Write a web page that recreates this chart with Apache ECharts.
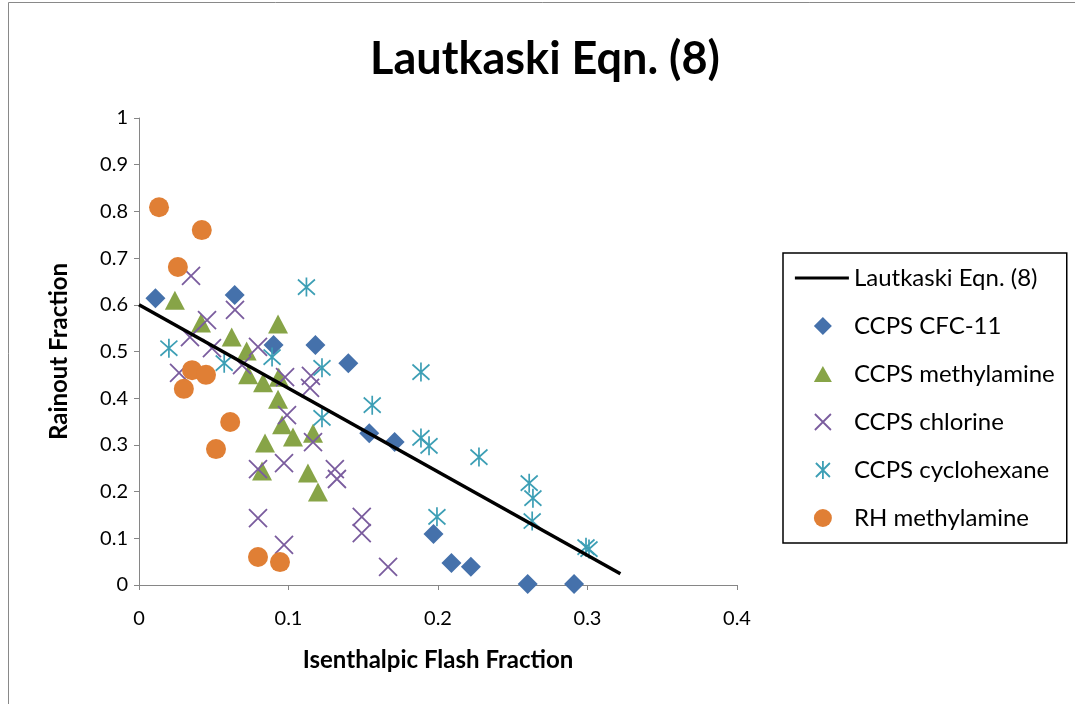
<!DOCTYPE html>
<html><head><meta charset="utf-8">
<script src="https://cdn.jsdelivr.net/npm/echarts@6/dist/echarts.min.js"></script>
<style>html,body{margin:0;padding:0;background:#fff}#c{width:1075px;height:704px}</style>
</head><body><div id="c"></div>
<script>
const xTickLabels = ['0', '0.1', '0.2', '0.3', '0.4'];
const yTickLabels = ['0', '0.1', '0.2', '0.3', '0.4', '0.5', '0.6', '0.7', '0.8', '0.9', '1'];

const lautkaskiX = [0, 0.322];
const lautkaskiY = [0.6, 0.024];

const cfc11X = [0.011, 0.064, 0.090, 0.118, 0.140, 0.154, 0.171, 0.197, 0.209, 0.222, 0.260, 0.291];
const cfc11Y = [0.614, 0.621, 0.514, 0.514, 0.475, 0.325, 0.306, 0.109, 0.047, 0.039, 0.002, 0.002];

const methylX = [0.024, 0.0415, 0.062, 0.072, 0.093, 0.073, 0.083, 0.0935, 0.093, 0.0957, 0.103, 0.1164, 0.0843, 0.0823, 0.113, 0.1197];
const methylY = [0.610, 0.561, 0.531, 0.501, 0.559, 0.450, 0.433, 0.445, 0.398, 0.343, 0.317, 0.325, 0.304, 0.244, 0.240, 0.199];

const chlorineX = [0.0348, 0.0642, 0.0455, 0.0341, 0.0488, 0.0796, 0.0689, 0.0268, 0.0977, 0.115, 0.1144, 0.099, 0.1164, 0.0796, 0.097, 0.131, 0.1324, 0.0796, 0.097, 0.149, 0.149, 0.1666];
const chlorineY = [0.662, 0.589, 0.567, 0.531, 0.507, 0.510, 0.471, 0.454, 0.445, 0.448, 0.422, 0.364, 0.306, 0.248, 0.261, 0.248, 0.227, 0.143, 0.086, 0.146, 0.111, 0.039];

const cycloX = [0.020, 0.057, 0.089, 0.112, 0.1224, 0.1224, 0.156, 0.1886, 0.1886, 0.194, 0.2274, 0.261, 0.2635, 0.263, 0.1993, 0.299, 0.301];
const cycloY = [0.507, 0.475, 0.488, 0.638, 0.465, 0.358, 0.385, 0.456, 0.315, 0.298, 0.274, 0.218, 0.186, 0.137, 0.146, 0.081, 0.077];

const rhX = [0.0134, 0.042, 0.026, 0.0355, 0.0448, 0.030, 0.061, 0.0515, 0.0796, 0.0943];
const rhY = [0.809, 0.760, 0.681, 0.460, 0.450, 0.420, 0.349, 0.291, 0.060, 0.049];

const zip = (xs, ys) => xs.map((x, i) => [x, ys[i]]);
const FONT = 'Lato, "Liberation Sans", sans-serif';
const AXIS = '#868686';
const PAD = 'M0,0M54,18';

const chart = echarts.init(document.getElementById('c'), null, {renderer: 'canvas'});
chart.setOption({
  animation: false,
  backgroundColor: '#fff',
  textStyle: {fontFamily: FONT},
  graphic: [{
    type: 'rect', silent: true, z: -10,
    shape: {x: 8.5, y: 2.5, width: 1200, height: 800},
    style: {fill: 'none', stroke: '#898989', lineWidth: 1}
  }],
  title: {
    text: 'Lautkaski Eqn. (8)',
    left: 540, top: 32, textAlign: 'center',
    textStyle: {fontFamily: FONT, fontSize: 45, fontWeight: 'bold', color: '#000'}
  },
  grid: {left: 139, top: 118, width: 598, height: 467, containLabel: false},
  xAxis: {
    type: 'value', min: 0, max: 0.4, interval: 0.1,
    name: 'Isenthalpic Flash Fraction', nameLocation: 'middle', nameGap: 63,
    nameTextStyle: {fontFamily: FONT, fontSize: 24, fontWeight: 'bold', color: '#000'},
    axisLine: {show: true, lineStyle: {color: AXIS, width: 1}},
    axisTick: {show: true, inside: false, length: 5, lineStyle: {color: AXIS}},
    splitLine: {show: false},
    axisLabel: {fontFamily: FONT, fontSize: 20, color: '#000', margin: 24,
      formatter: v => xTickLabels[Math.round(v * 10)]}
  },
  yAxis: {
    type: 'value', min: 0, max: 1, interval: 0.1,
    name: 'Rainout Fraction', nameLocation: 'middle', nameGap: 68,
    nameTextStyle: {fontFamily: FONT, fontSize: 24, fontWeight: 'bold', color: '#000'},
    axisLine: {show: true, lineStyle: {color: AXIS, width: 1}},
    axisTick: {show: true, inside: false, length: 5, lineStyle: {color: AXIS}},
    splitLine: {show: false},
    axisLabel: {fontFamily: FONT, fontSize: 20, color: '#000', margin: 11,
      formatter: v => yTickLabels[Math.round(v * 10)]}
  },
  legend: {
    orient: 'vertical', left: 783, top: 253,
    padding: [13, 12, 13, 11], itemGap: 24, itemWidth: 54, itemHeight: 18,
    borderColor: '#000', borderWidth: 1.5,
    textStyle: {fontFamily: FONT, fontSize: 24, lineHeight: 24, color: '#000'},
    data: [
      {name: 'Lautkaski Eqn. (8)', icon: 'path://' + PAD + 'M0,7.5L54,7.5L54,10.5L0,10.5Z',
        itemStyle: {color: '#000', borderWidth: 0}},
      {name: 'CCPS CFC-11', icon: 'path://' + PAD + 'M28,0L37,9L28,18L19,9Z'},
      {name: 'CCPS methylamine', icon: 'path://' + PAD + 'M28,1L37,17L19,17Z'},
      {name: 'CCPS chlorine', icon: 'path://' + PAD + 'M20,1L36,17M36,1L20,17',
        itemStyle: {borderWidth: 1.8}},
      {name: 'CCPS cyclohexane', icon: 'path://' + PAD + 'M21,2L35,16M35,2L21,16M28,0L28,18',
        itemStyle: {borderWidth: 1.8}},
      {name: 'RH methylamine', icon: 'path://' + PAD + 'M19,9A9,9 0 1 1 37,9A9,9 0 1 1 19,9Z'}
    ]
  },
  series: [
    {name: 'Lautkaski Eqn. (8)', type: 'line', data: zip(lautkaskiX, lautkaskiY),
      symbol: 'none', lineStyle: {color: '#000', width: 3.5}, itemStyle: {color: '#000'}},
    {name: 'CCPS CFC-11', type: 'scatter', data: zip(cfc11X, cfc11Y),
      symbol: 'diamond', symbolSize: 20, itemStyle: {color: '#4571ab', opacity: 1}},
    {name: 'CCPS methylamine', type: 'scatter', data: zip(methylX, methylY),
      symbol: 'triangle', symbolSize: [20, 19], itemStyle: {color: '#87a447', opacity: 1}},
    {name: 'CCPS chlorine', type: 'scatter', data: zip(chlorineX, chlorineY),
      symbol: 'path://M0,0L10,10M10,0L0,10', symbolSize: 18,
      itemStyle: {color: 'rgba(0,0,0,0)', borderColor: '#7a5c9e', borderWidth: 1.8, opacity: 1}},
    {name: 'CCPS cyclohexane', type: 'scatter', data: zip(cycloX, cycloY),
      symbol: 'path://M2,2L18,18M18,2L2,18M10,0L10,20', symbolSize: [17, 19],
      itemStyle: {color: 'rgba(0,0,0,0)', borderColor: '#3d9fb5', borderWidth: 1.8, opacity: 1}},
    {name: 'RH methylamine', type: 'scatter', data: zip(rhX, rhY),
      symbol: 'circle', symbolSize: 20, itemStyle: {color: '#e07f35', opacity: 1}}
  ]
});
</script></body></html>
